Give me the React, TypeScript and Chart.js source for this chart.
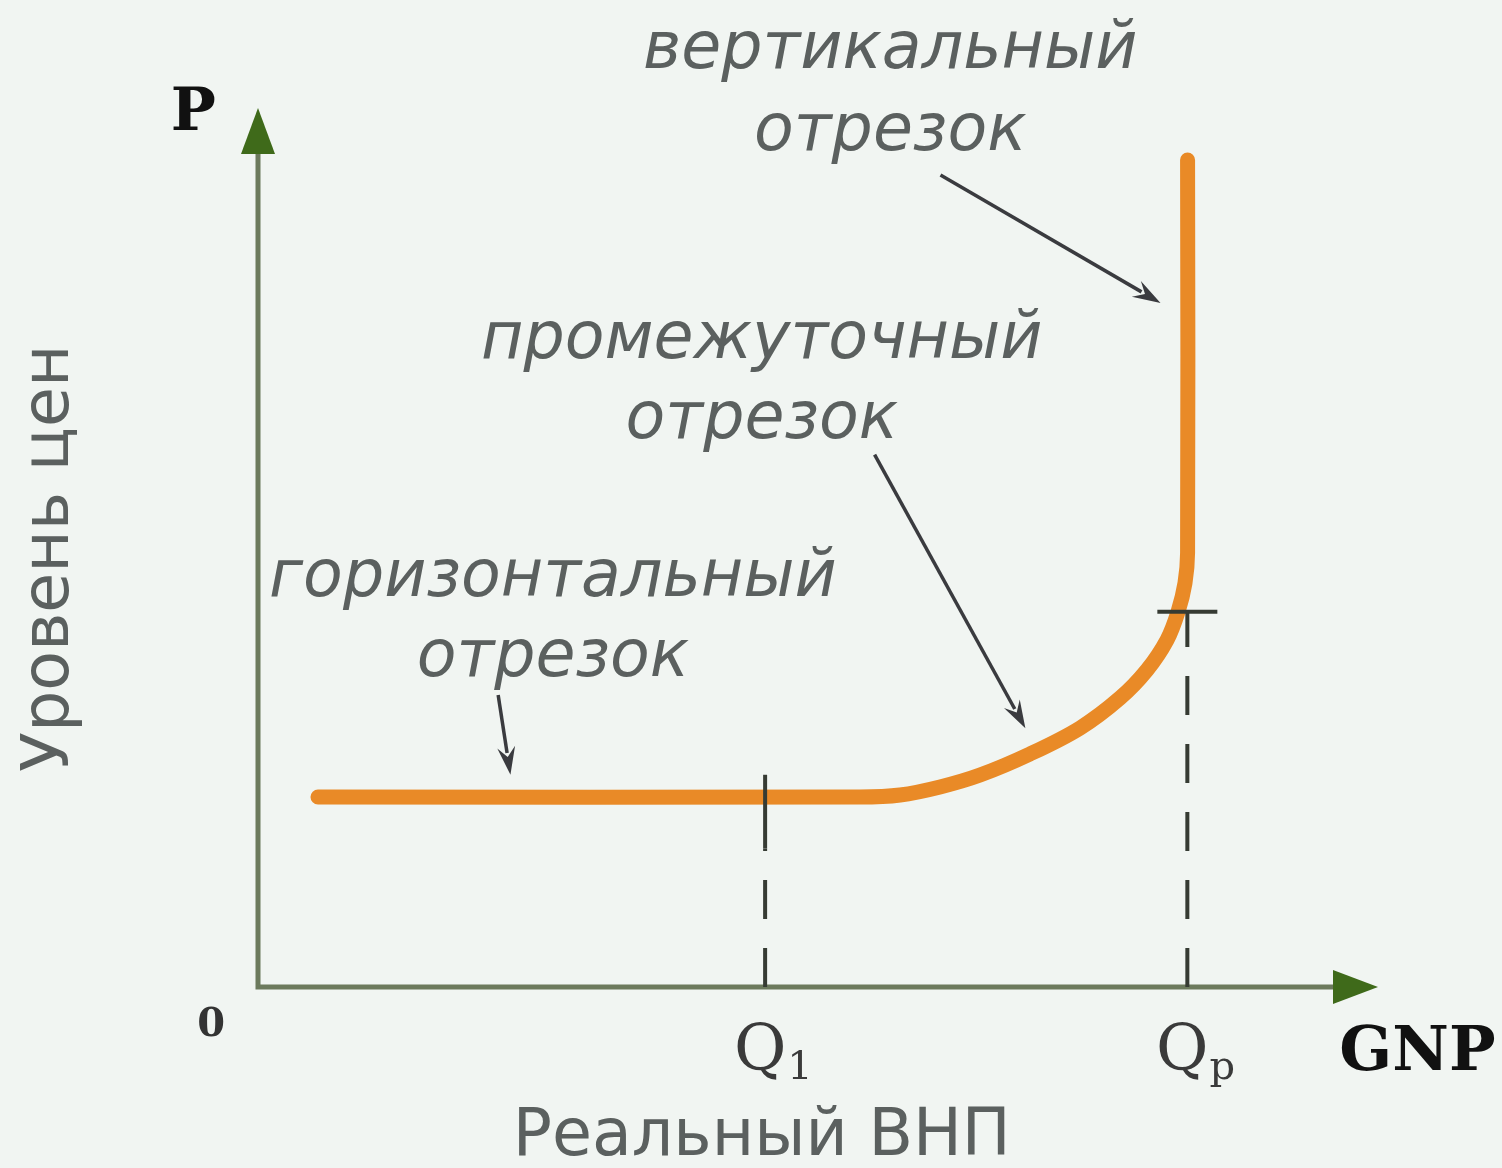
import React, { useEffect, useRef } from "react";
import { Chart, registerables } from "chart.js";
Chart.register(...registerables);

const curveX = [5.37, 53.89, 57.48, 61.06, 64.64, 69.11, 73.59, 77.17, 79.59, 81.38, 82.36, 82.99, 83.22, 83.22];
const curveY = [21.66, 21.66, 21.89, 22.81, 24.17, 26.57, 29.53, 32.95, 36.15, 39.57, 42.76, 46.07, 49.49, 94.3];

// x-axis tick marks Q1 and Qp
const xTickValues = [45.4, 83.2];
const xTickMain = ["Q", "Q"];
const xTickSub = ["1", "p"];
const xTickTopLevel = [24.2, 42.8];
const xTickSolidFrom = [15.8, 42.8];

// segment annotations
const segLine1 = ["вертикальный", "промежуточный", "горизонтальный"];
const segLine2 = ["отрезок", "отрезок", "отрезок"];
const segX = [56.6, 45.1, 26.4];
const segY1 = [104.8, 71.7, 44.6];
const segY2 = [95.4, 62.6, 35.5];
const arrowFromX = [61.1, 55.2, 21.5];
const arrowFromY = [92.6, 60.7, 33.3];
const arrowToX = [80.8, 68.7, 22.6];
const arrowToY = [78.0, 29.5, 24.2];

const axisMax = 100;
const yAxisTitle = "Уровень цен";
const xAxisTitle = "Реальный ВНП";
const yAxisName = "P";
const xAxisName = "GNP";
const originLabel = "0";

const TEXT = "#5b605f";

export default function App() {
  const ref = useRef<HTMLCanvasElement | null>(null);
  useEffect(() => {
    const canvas = ref.current!;
    const plugin = {
      id: "asDecor",
      beforeDatasetsDraw(chart: any) {
        const { ctx } = chart;
        const xs = chart.scales.x, ys = chart.scales.y;
        const x0 = xs.getPixelForValue(0), y0 = ys.getPixelForValue(0);
        const xEnd = xs.getPixelForValue(axisMax), yEnd = ys.getPixelForValue(axisMax);
        ctx.save();
        ctx.strokeStyle = "#6c7a5d";
        ctx.lineWidth = 5;
        ctx.lineJoin = "miter";
        ctx.beginPath();
        ctx.moveTo(x0, yEnd + 40);
        ctx.lineTo(x0, y0);
        ctx.lineTo(xEnd - 38, y0);
        ctx.stroke();
        ctx.fillStyle = "#3f6a1a";
        ctx.beginPath();
        ctx.moveTo(x0, yEnd - 2);
        ctx.lineTo(x0 - 17, yEnd + 44);
        ctx.lineTo(x0 + 17, yEnd + 44);
        ctx.closePath();
        ctx.fill();
        ctx.beginPath();
        ctx.moveTo(xEnd + 3, y0);
        ctx.lineTo(xEnd - 42, y0 - 17);
        ctx.lineTo(xEnd - 42, y0 + 17);
        ctx.closePath();
        ctx.fill();
        ctx.restore();
      },
      afterDatasetsDraw(chart: any) {
        const { ctx } = chart;
        const xs = chart.scales.x, ys = chart.scales.y;
        const px = (v: number) => xs.getPixelForValue(v);
        const py = (v: number) => ys.getPixelForValue(v);
        const y0 = py(0);
        ctx.save();
        // dashed guides and ticks
        ctx.strokeStyle = "#363b33";
        ctx.lineWidth = 4;
        xTickValues.forEach((v, i) => {
          const x = px(v);
          ctx.setLineDash([39, 29]);
          ctx.beginPath();
          ctx.moveTo(x, y0);
          ctx.lineTo(x, py(xTickSolidFrom[i]));
          ctx.stroke();
          ctx.setLineDash([]);
          if (xTickTopLevel[i] > xTickSolidFrom[i]) {
            ctx.beginPath();
            ctx.moveTo(x, py(xTickSolidFrom[i]));
            ctx.lineTo(x, py(xTickTopLevel[i]));
            ctx.stroke();
          }
        });
        // horizontal tick at Qp kink
        const kx = px(xTickValues[1]);
        ctx.beginPath();
        ctx.moveTo(kx - 30, py(xTickTopLevel[1]));
        ctx.lineTo(kx + 30, py(xTickTopLevel[1]));
        ctx.stroke();

        // annotation arrows
        ctx.strokeStyle = "#3a3b3f";
        ctx.fillStyle = "#3a3b3f";
        ctx.lineWidth = 3.5;
        for (let i = 0; i < arrowFromX.length; i++) {
          const ax = px(arrowFromX[i]), ay = py(arrowFromY[i]);
          const bx = px(arrowToX[i]), by = py(arrowToY[i]);
          const ang = Math.atan2(by - ay, bx - ax);
          const L = 28, W = 9;
          const hx = bx - L * Math.cos(ang), hy = by - L * Math.sin(ang);
          ctx.beginPath();
          ctx.moveTo(ax, ay);
          ctx.lineTo(hx + 6 * Math.cos(ang), hy + 6 * Math.sin(ang));
          ctx.stroke();
          ctx.beginPath();
          ctx.moveTo(bx, by);
          ctx.lineTo(hx - W * Math.sin(ang), hy + W * Math.cos(ang));
          ctx.lineTo(hx + 10 * Math.cos(ang), hy + 10 * Math.sin(ang));
          ctx.lineTo(hx + W * Math.sin(ang), hy - W * Math.cos(ang));
          ctx.closePath();
          ctx.fill();
        }

        // segment annotations
        ctx.fillStyle = TEXT;
        ctx.textAlign = "center";
        ctx.textBaseline = "alphabetic";
        ctx.font = 'italic 65px "DejaVu Sans"';
        for (let i = 0; i < segLine1.length; i++) {
          ctx.fillText(segLine1[i], px(segX[i]), py(segY1[i]));
          ctx.fillText(segLine2[i], px(segX[i]), py(segY2[i]));
        }

        // axis titles
        ctx.font = '65px "DejaVu Sans"';
        ctx.fillText(xAxisTitle, px(45.1), py(-19.2));
        ctx.save();
        ctx.translate(px(-17.0), py(48.9));
        ctx.rotate(-Math.PI / 2);
        ctx.fillText(yAxisTitle, 0, 0);
        ctx.restore();

        // axis names
        ctx.fillStyle = "#111";
        ctx.font = 'bold 60px "DejaVu Serif"';
        ctx.fillText(yAxisName, px(-5.8), py(97.7));
        ctx.font = 'bold 62px "DejaVu Serif"';
        ctx.fillText(xAxisName, px(103.8), py(-9.5));
        ctx.fillStyle = "#333";
        ctx.font = 'bold 40px "DejaVu Serif"';
        ctx.fillText(originLabel, px(-4.2), py(-5.6));

        // tick labels with subscripts
        ctx.fillStyle = "#3a3a3a";
        xTickValues.forEach((v, i) => {
          ctx.font = '64px "DejaVu Serif"';
          const qw = ctx.measureText(xTickMain[i]).width;
          const cx = px(v) - 5;
          ctx.textAlign = "center";
          ctx.fillText(xTickMain[i], cx, py(-9.5));
          ctx.textAlign = "left";
          ctx.font = '40px "DejaVu Serif"';
          ctx.fillText(xTickSub[i], cx + qw / 2 + 1, py(-10.5));
        });
        ctx.restore();
      },
    };
    const chart = new Chart(canvas, {
      type: "line",
      data: {
        datasets: [
          {
            data: curveX.map((x, i) => ({ x, y: curveY[i] })),
            borderColor: "#e98a27",
            borderWidth: 15,
            borderCapStyle: "round",
            borderJoinStyle: "round",
            tension: 0.35,
            pointRadius: 0,
            fill: false,
            clip: false as any,
          },
        ],
      },
      options: {
        animation: false,
        responsive: false,
        devicePixelRatio: 1,
        layout: { padding: { left: 258, right: 127, top: 110, bottom: 181 } },
        scales: {
          x: { type: "linear", min: 0, max: axisMax, display: false },
          y: { type: "linear", min: 0, max: axisMax, display: false },
        },
        plugins: { legend: { display: false }, tooltip: { enabled: false } },
        events: [],
      },
      plugins: [plugin],
    });
    return () => chart.destroy();
  }, []);
  return (
    <div style={{ position: "fixed", left: 0, top: 0, width: 1502, height: 1168, background: "#f1f5f2" }}>
      <canvas ref={ref} width={1502} height={1168} style={{ display: "block", width: 1502, height: 1168 }} />
    </div>
  );
}
